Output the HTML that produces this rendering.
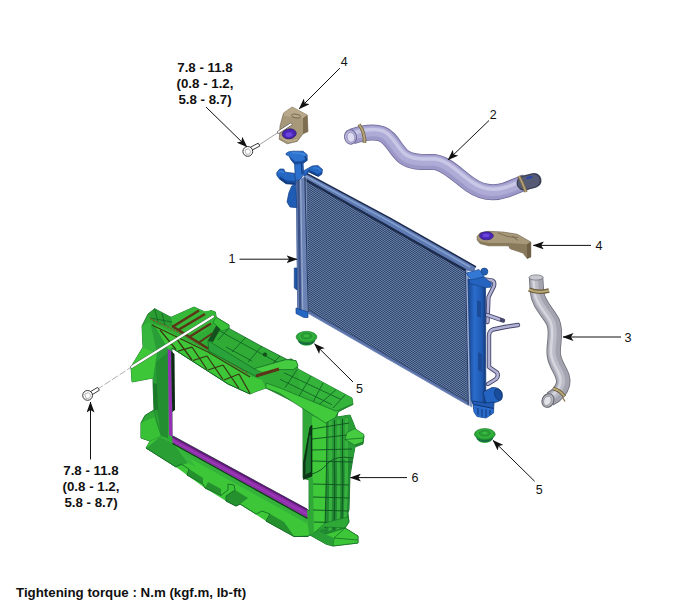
<!DOCTYPE html>
<html><head><meta charset="utf-8">
<style>
html,body{margin:0;padding:0;background:#fff;}
body{width:700px;height:614px;overflow:hidden;position:relative;font-family:"Liberation Sans",sans-serif;}
svg{position:absolute;left:0;top:0;}
text{font-family:"Liberation Sans",sans-serif;fill:#111;}
.b{font-weight:bold;font-size:13.3px;}
.n{font-size:12.5px;}
</style></head><body>
<svg width="700" height="614" viewBox="0 0 700 614">
<defs>
<marker id="ah" viewBox="0 0 11 8" refX="10.5" refY="4" markerWidth="11" markerHeight="8" orient="auto" markerUnits="userSpaceOnUse"><path d="M0,0 L11,4 L0,8 L2.6,4 Z" fill="#111"/></marker>
</defs>
<!--P1S-->
<defs>
<pattern id="core" width="3" height="2" patternUnits="userSpaceOnUse">
<rect width="3" height="2" fill="#32456a"/>
<rect x="0" y="0" width="1.5" height="1" fill="#6580a8"/><rect x="1.5" y="1" width="1.5" height="1" fill="#6580a8"/>
</pattern>
<linearGradient id="coreSh" x1="0" y1="0" x2="1" y2="1">
<stop offset="0" stop-color="#6a86b0" stop-opacity="0.0"/>
<stop offset="1" stop-color="#203458" stop-opacity="0.0"/>
</linearGradient>
<linearGradient id="tankR" x1="0" y1="0" x2="1" y2="0">
<stop offset="0" stop-color="#174690"/><stop offset="0.35" stop-color="#2a6ccc"/><stop offset="0.75" stop-color="#1f5ab2"/><stop offset="1" stop-color="#10326c"/>
</linearGradient>
<linearGradient id="hose2" x1="0" y1="0" x2="0" y2="1">
<stop offset="0" stop-color="#8f8cba"/><stop offset="0.3" stop-color="#c4c2e2"/><stop offset="0.7" stop-color="#a5a2cf"/><stop offset="1" stop-color="#807dab"/>
</linearGradient>
</defs>
<g id="radiator">
<!-- core -->
<polygon points="304.5,178.5 465.7,269.8 468.5,403 308.3,311" fill="url(#core)"/>
<polygon points="304.5,178.5 465.7,269.8 468.5,403 308.3,311" fill="url(#coreSh)"/>
<!-- top rail -->
<polygon points="306,173 390,217.9 476,266.6 474,272 465.7,270.5 304.5,179.5" fill="#5d7ab2"/>
<polyline points="306,173.2 390,218.1 476,266.8" stroke="#1c2a4c" stroke-width="1.5" fill="none"/>
<polyline points="305.5,176 390,221.6 470,267" stroke="#86a0d0" stroke-width="1.5" fill="none"/>
<polyline points="304.5,179.3 465.7,270.4" stroke="#1d2b4c" stroke-width="2.4" fill="none"/>
<!-- bottom rail -->
<polygon points="308.3,310 468,402 468.5,405.6 308.3,313.6" fill="#5d74a8"/>
<polyline points="308.3,310 468,402" stroke="#2c3f68" stroke-width="0.8" fill="none"/>
<polyline points="308.3,313.4 468.5,405.4" stroke="#6f88bc" stroke-width="0.8" fill="none"/>
<!-- left header strip -->
<polygon points="296,181 304.8,176.5 308.5,313 297.5,309" fill="#6a82b4"/>
<polyline points="298.3,180 300.2,310" stroke="#3c5286" stroke-width="2.2" fill="none"/><polyline points="300.6,179 302.8,311" stroke="#a4b4d6" stroke-width="0.9" fill="none"/><polyline points="306,177 308,312" stroke="#93a6cc" stroke-width="0.8" fill="none"/>
<polyline points="304.8,177 308.3,312" stroke="#2a3f68" stroke-width="1.1" fill="none"/>
<polyline points="296.3,181 297.7,309" stroke="#5873a6" stroke-width="1" fill="none"/>
<!-- right header strip -->
<polygon points="465,270.5 468.8,272 472,407.5 468,405" fill="#7990c0"/>
<polyline points="465.5,270.5 468.3,405" stroke="#2a3f68" stroke-width="1.1" fill="none"/>
<polyline points="466.8,271.5 469.6,406" stroke="#aab9d8" stroke-width="0.8" fill="none"/>
<!-- left blue bits -->
<g fill="#2468c4" stroke="#153f86" stroke-width="0.7" stroke-linejoin="round">
<path d="M276.8,172.4 L279.7,169 L283.7,169 L285.4,172.2 L294.5,173.3 L296.2,181.5 L295.7,184.5 L286,183.8 L279,178.6 L276.8,175.2Z"/>
<path d="M291.7,186 L295.7,184.3 L296.8,207.7 L290,207 L287,202 L288.8,193Z" fill="#1f5cb4"/>
<path d="M303,171.2 L312.2,166 L317.9,165.5 L322.5,169.5 L321.9,174 L318.5,176.4 L308.8,171.8 L304.2,176.5Z"/>
<path d="M294.5,163 L303,162.6 L303.8,174.5 L300,179.5 L295.4,180.5Z" fill="#2a70cc"/>
<path d="M286,153.5 L288.8,151.8 L292.8,151.2 L303,151.2 L307.2,154.7 L307.2,160.4 L303,163.4 L294.5,164 L291,159.8 L288.8,155.8 L286,154.7Z" fill="#2c72ce"/>
<path d="M294.3,268 L297,268 L297,290 L294.3,288Z" fill="#2058a8"/>
<path d="M296,308 L308,312 L308,317.5 L304,317.5 L296,313.5Z"/>
</g>
<path d="M292,153.2 Q298,152.2 305.5,155.2" stroke="#4a8ce0" stroke-width="1.3" fill="none"/>
<path d="M288.8,155.8 L291,159.8 L294.5,164 L303,163.4 L307.2,160.4 L307,158 L302,161 L295,161.5Z" fill="#184c9c"/>
<path d="M279,178.6 L286,183.8 L295.7,184.5 L296,181 L287,180.5 L280,176Z M304.2,176.5 L308.8,171.8 L318.5,176.4 L321.9,174 L321,172 L318,174 L309,169.5Z" fill="#184c9c"/>
<path d="M304.8,156 L306.6,160 M301.5,164 L302,174" stroke="#143a7c" stroke-width="1.2" fill="none"/>
<path d="M278.5,172.5 Q281,170.2 284,172.5 M313,168 Q318,167 320.5,171" stroke="#4a8ce0" stroke-width="1" fill="none"/>
<path d="M280,178.5 L287,183 L295,184 M318,176 L309.5,172" stroke="#123672" stroke-width="1.1" fill="none"/>
<!-- right pipes (behind tank) -->
<g fill="none" stroke-linecap="round" stroke-linejoin="round">
<path d="M486,279.5 L492.5,280.5 Q495,282 494,286 L488.5,297 L487.5,322" stroke="#46466c" stroke-width="4.3"/>
<path d="M486,279.5 L492.5,280.5 Q495,282 494,286 L488.5,297 L487.5,322" stroke="#b2b2d4" stroke-width="2.5"/>
<path d="M518,325 L505,327 L493,329.5 Q489,331 489,336 L489,367 L497,372.5 Q499,376 496,379 L488,384" stroke="#46466c" stroke-width="4.4"/>
<path d="M518,325 L505,327 L493,329.5 Q489,331 489,336 L489,367 L497,372.5 Q499,376 496,379 L488,384" stroke="#b2b2d4" stroke-width="2.6"/>
<path d="M487,315 L503,320.5" stroke="#46466c" stroke-width="4.4"/>
<path d="M487,315 L499,319.2" stroke="#b4b4d6" stroke-width="2.6"/>
</g>
<!-- right tank -->
<path d="M468,279 L485.5,284 L485.8,392 L486.5,405 L473,404 L471,400 Z" fill="url(#tankR)" stroke="#123a7a" stroke-width="0.7"/>
<!-- outlet tube -->
<path d="M483,392 L492,387.5 Q499,387 502,392.5 Q503,398 499.5,401 L493.5,403 L486,404Z" fill="#2364c2" stroke="#10326c" stroke-width="0.7"/>
<ellipse cx="498.3" cy="394.6" rx="3.6" ry="6" fill="#1a4c9c" stroke="#10326c" stroke-width="0.6" transform="rotate(-20 498.3 394.6)"/>
<!-- base -->
<path d="M472.5,401 L486,403 L494,402 L493.5,413 L486,418 L477,416.5 L474,412Z" fill="#205cb6" stroke="#10326c" stroke-width="0.7"/>
<path d="M474,404.5 L493.5,408.5 L493.5,413 L486,418 L477,416.5 L474,412Z" fill="#2a6ccc"/>
<path d="M474,404.5 L493.5,408.5 M478,408 L478,415 M482,409 L482,416.5 M486,409.5 L486,417 M490,410 L490,415" stroke="#0f2f66" stroke-width="0.9" fill="none"/>
<path d="M477,300 L481,302 L481,318 L477,316Z M478,352 L482,354 L482,372 L478,370Z" fill="#1a4a98"/>
<path d="M469,279.5 L483.7,276.8 L491.7,283.4 L490.6,287.2 L485,287.8 L470,283.5Z" fill="#2464c0" stroke="#123a7c" stroke-width="0.6"/>
<circle cx="484.3" cy="271.6" r="3.6" fill="#245fb4" stroke="#123a7a" stroke-width="0.6"/>
<path d="M466.4,273.2 L479,269.4 L484.2,276.6 L471,280Z" fill="#3278d4" stroke="#143e84" stroke-width="0.6"/>
</g>
<!-- hose 2 -->
<g id="hose2g" fill="none" stroke-linecap="butt" stroke-linejoin="round">
<path id="h2p" d="M352,136.5 C362,133 372,130.5 382,134 C392,138 395,150 404,157 C412,163 424,162 434,162 C446,163 458,176 470,184.5 C482,193 494,194 506,190 L526,182"/>
<use href="#h2p" stroke="#6f6c9a" stroke-width="16"/>
<use href="#h2p" stroke="#9c99c8" stroke-width="14.4"/>
<use href="#h2p" stroke="#aeabd6" stroke-width="10" transform="translate(0.5,-1.2)"/>
<use href="#h2p" stroke="#c9c7e6" stroke-width="3.5" transform="translate(1,-3)"/>
<!-- dark end -->
<path d="M524,183 L534,180.5" stroke="#3a3f55" stroke-width="15" stroke-linecap="round"/>
<path d="M524,183 L533.5,180.6" stroke="#555b74" stroke-width="12.5" stroke-linecap="round"/>
<path d="M526.5,178.2 L532.5,176.8" stroke="#2846b0" stroke-width="2.2"/>
<!-- clamps -->
<path d="M519,176 Q523,184 526,192" stroke="#7a6a48" stroke-width="3.4"/>
<path d="M519,176 Q523,184 526,192" stroke="#b4a47c" stroke-width="1.6"/>
<path d="M359,124.5 Q365,132 364.5,143" stroke="#7a6a48" stroke-width="3.6"/>
<path d="M359,124.5 Q365,132 364.5,143" stroke="#b4a47c" stroke-width="1.8"/>
<!-- open end -->
<ellipse cx="350.5" cy="137" rx="6" ry="7.2" fill="#b9b7dc" stroke="#6a6794" stroke-width="1" transform="rotate(-12 350.5 137)"/>
<ellipse cx="350.8" cy="137.3" rx="3.8" ry="5" fill="#dedcf0" stroke="#8582b0" stroke-width="0.7" transform="rotate(-12 350.5 137)"/>
</g>
<!-- hose 3 -->
<g id="hose3g" fill="none" stroke-linejoin="round">
<path id="h3p" d="M536,277 L537,292 C538,304 548,312 553,322 C558,334 552,346 554,356 C556,368 565,374 563,384 C561,392 556,396 550,399"/>
<use href="#h3p" stroke="#6e6e78" stroke-width="14.4"/>
<use href="#h3p" stroke="#a4a4b0" stroke-width="12.8"/>
<use href="#h3p" stroke="#bcbcc8" stroke-width="7" transform="translate(-1.6,-0.4)"/>
<use href="#h3p" stroke="#d6d6de" stroke-width="2.4" transform="translate(-2.6,-0.6)"/>
<!-- top clamp -->
<path d="M529,289.5 Q538,293.5 549,290.5" stroke="#6a5c3a" stroke-width="4.6"/>
<path d="M529,289.5 Q538,293.5 549,290.5" stroke="#b8a878" stroke-width="2.2"/>
<ellipse cx="536" cy="277.5" rx="7" ry="2.6" fill="#c8c8d0" stroke="#77777f" stroke-width="0.8"/>
<!-- bottom clamp -->
<path d="M553,388.5 Q560,390 564.5,396.5" stroke="#6a5c3a" stroke-width="3.8"/>
<path d="M553,388.5 Q560,390 564.5,396.5" stroke="#b8a878" stroke-width="1.8"/>
<path d="M563,398 L565,401.5" stroke="#8a7a4a" stroke-width="1.3"/>
<ellipse cx="548" cy="400.5" rx="5.8" ry="7" fill="#b4b4be" stroke="#5f5f68" stroke-width="1" transform="rotate(25 548 400.5)"/>
<ellipse cx="547.6" cy="401" rx="3.6" ry="4.8" fill="#e2e2e8" stroke="#8a8a94" stroke-width="0.7" transform="rotate(25 548 400.5)"/>
</g>
<!--P1E-->
<!--P2S-->
<!-- bracket 4 top -->
<g id="br1">
<path d="M283.6,113 L292.1,107 L307.2,115 L308,131.5 L303,133.8 L297.2,141.4 L287.2,143.8 L279.3,139.4 L280,125.8Z" fill="#a8987a" stroke="#6a5c44" stroke-width="0.6"/>
<path d="M303,118 L307.2,115 L308,131.5 L303,133.8Z" fill="#7e6e52"/>
<path d="M283.6,113 L292.1,107 L307.2,115 L303,118 L284.5,116Z" fill="#b8a98a"/>
<ellipse cx="296" cy="116" rx="4.6" ry="1.8" fill="none" stroke="#6a5c44" stroke-width="0.8" transform="rotate(8 296 116)"/>
<path d="M280,136.5 Q288,144 297,139.5" stroke="#c8b998" stroke-width="1" fill="none"/>
<ellipse cx="289.3" cy="133.8" rx="7" ry="4.9" fill="#4a26b4" stroke="#2c1670" stroke-width="0.7" transform="rotate(-8 289.3 133.8)"/>
<ellipse cx="289" cy="134.6" rx="3.6" ry="2.3" fill="#6a44dc" transform="rotate(-8 289 134.6)"/>
<!-- rod -->
<line x1="278.5" y1="132.2" x2="290.8" y2="124.3" stroke="#555" stroke-width="3" stroke-linecap="round"/>
<line x1="278.5" y1="132.2" x2="290.8" y2="124.3" stroke="#fff" stroke-width="1.9" stroke-linecap="round"/>
<line x1="259" y1="145" x2="278.5" y2="132.2" stroke="#666" stroke-width="0.6"/>
</g>
<!-- bolt 1 -->
<g id="bolt1" stroke="#222" stroke-width="0.9" fill="#fff">
<path d="M250.5,147.2 L258.2,143.2 L259.8,146 L252,150.2Z"/>
<circle cx="247.8" cy="151.4" r="4.9"/>
<path d="M245,150 L248.5,148.8 L250.8,151.2 L249.5,154 L246.2,154.3Z" stroke="#888" stroke-width="0.6"/>
</g>
<!-- bracket 4 right -->
<g id="br2">
<path d="M477.1,236.4 L480,232.9 L488.6,231.3 L502.9,232 L517.1,234.2 L530.8,242 L530.8,257 L527.2,258.6 L523,253 L510,248.7 L508.6,245.8 L488.6,245.8 L480,243.6 L477.1,240Z" fill="#a8987a" stroke="#6a5c44" stroke-width="0.6"/>
<path d="M477.3,238 L480,241.2 L488.6,243 L509,243 L527,244.2 L530.8,242 L530.8,257 L527.2,258.6 L523,253 L510,248.7 L508.6,245.8 L488.6,245.8 L480,243.6Z" fill="#8a7a5c"/>
<path d="M527,244.2 L530.8,242 L530.8,257 L527.2,258.6Z" fill="#6e5f44"/>
<path d="M498,233 Q508,238 518,237.5 M512,236 L518,240.5" stroke="#6a5c44" stroke-width="0.7" fill="none"/>
<ellipse cx="486.4" cy="235.8" rx="7" ry="4" fill="#4a26b4" stroke="#2c1670" stroke-width="0.6"/>
<ellipse cx="486" cy="235.4" rx="3.4" ry="1.9" fill="#6a44dc"/>
</g>
<!-- grommets -->
<g>
<ellipse cx="306.5" cy="342.2" rx="6.8" ry="3.6" fill="#3cc040"/>
<ellipse cx="306.5" cy="340.4" rx="8.6" ry="4.6" fill="#176a44"/>
<ellipse cx="306.5" cy="337" rx="10.4" ry="5.7" fill="#2aa436" stroke="#1a7a2a" stroke-width="0.6"/>
<ellipse cx="306.5" cy="336.4" rx="8.2" ry="4.3" fill="#34b43c"/>
<ellipse cx="306.5" cy="336" rx="5.6" ry="2.9" fill="#2a9e34" stroke="#1c8030" stroke-width="0.6"/>
<ellipse cx="306.5" cy="335.8" rx="2.8" ry="1.5" fill="#38b83e"/>
</g>
<g>
<ellipse cx="484.8" cy="439.4" rx="6.8" ry="3.6" fill="#3cc040"/>
<ellipse cx="484.8" cy="437.59999999999997" rx="8.6" ry="4.6" fill="#176a44"/>
<ellipse cx="484.8" cy="434.2" rx="10.4" ry="5.7" fill="#2aa436" stroke="#1a7a2a" stroke-width="0.6"/>
<ellipse cx="484.8" cy="433.59999999999997" rx="8.2" ry="4.3" fill="#34b43c"/>
<ellipse cx="484.8" cy="433.2" rx="5.6" ry="2.9" fill="#2a9e34" stroke="#1c8030" stroke-width="0.6"/>
<ellipse cx="484.8" cy="433.0" rx="2.8" ry="1.5" fill="#38b83e"/>
</g>
<!--P2E-->
<!--P3S-->
<!-- green frame -->
<g id="frame">
<!-- silhouette with opening (evenodd) -->
<path fill-rule="evenodd" fill="#30ac36" stroke="#126424" stroke-width="0.8" stroke-linejoin="round" d="
M148,314 L154.6,308.7 L171,317.3 L194,307 L203.4,311.3 L204.3,314 L211,310.4 L215.4,312 L216.3,317.3 L229,325 L229,328.4 L260,345.5 L288,360 L291,358.8 L296,362 L298,369 L352,398 L353,404 L338,412 L337,417 L350,415 L353,422 L356,430 L364,436 L363,444 L355,447 L353,458 L350,476 L349,510 L348,513 L349,522 L345,528 L358,536 L358,543 L333,546 L326,544 L310,535 L308,536.5 L294,536.5 L266,521 L270,514 L262,511 L256,514 L240,504 L236,506 L226,501 L226,496 L235,490 L234,485 L228,484 L228,490 L221,495.5 L205,488 L203,484 L187,475 L189,469 L181,464 L176,467 L146,448 L150,441 L141,438 L141,423 L145,415.5 L154,410 L153,383 L153,378 L132,382 L131,367 L143,347 L142,326 Z
M172,348 L200,366 L228,384 L250,394 L256,391.5 L266,388 L302,406 L303,409 L303,478 L309,480 L309,511 L307,509 L173,436 L172,436 Z"/>
<!-- top beam: far top face lighter strip at left -->
<path d="M148,314 L154.6,308.7 L171,317.3 L173,327 L154,324Z" fill="#2a9c32"/>
<path d="M171,317.3 L194,307 L203.4,311.3 L211,310.4 L215.4,312 L216.3,317.3 L206,330 L190,338 L173,327Z" fill="#36b838"/>
<path d="M154.6,308.7 L158,322 M162,313 L165,325.5 M150,318 L172,322" stroke="#126424" stroke-width="0.8" fill="none"/>
<!-- top beam front truss face -->
<path d="M142.6,326.7 L154,324 L208,351 L250,376 L262,380 L266,388 L256,391.5 L250,394 L228,384 L200,366 L172,348 L168,349 L143,347Z" fill="#3cc638"/>
<!-- left pillar shading -->
<path d="M142,326 L154,324 L168,349 L168,436 L154,410 L153,378 L132,382 L131,367 L143,347Z" fill="#2a9e36"/>
<path d="M153,378 L132,382 L131,367 L143,347 L157,353 Z" fill="#3cc638"/>
<path d="M142,326 L150,322 L157,353 L143,347Z" fill="#36b63c"/>
<path d="M156,362 L168,352 L168,438 L161,436 L157,410Z" fill="#238e30"/>
<path d="M153,383 L157,384 L158,410 L154,410Z" fill="#1a7a2a"/>
<!-- truss lines on front -->
<g stroke="#3a3a12" stroke-width="1.3" fill="none">
<path d="M152,325 L208,352 L250,377"/>
<path d="M160,330 L176,349.5 M176,338 L192,360 M192,347 L178,351 M192,347 L207,369.5 M207,356 L193,360.5 M207,356 L223,379.5 M223,365 L208,370 M223,365 L239,388.5 M239,374 L224,380 M239,374 L250,393.5"/>
</g>
<path d="M150,318.5 L182,334 L214,353 L248,373.5" stroke="#7a5a2a" stroke-width="1.2" fill="none" stroke-dasharray="2.2 1"/>
<path d="M172,348 L200,366 L228,384 L250,394" stroke="#126424" stroke-width="1" fill="none"/>
<!-- top surface grid lines -->
<g stroke="#126424" stroke-width="0.9" fill="none">
<path d="M229,328 L218,340 M246,337 L232,352 M262,346 L248,362 M280,356 L270,366 M297,369.5 L285,387.8"/>
<path d="M218,330 L236,340 L284,366 M226,347 L252,361"/>
</g>
<!-- raised wall on top -->
<path d="M207.9,340.5 L254.2,368.8 L286,359.7 L296,360.6 L298,366 L293.6,369.6 L279,369.5 L256,376.5 L208.7,351Z" fill="#2aa43a" stroke="#126424" stroke-width="0.7" stroke-linejoin="round"/>
<path d="M254.2,368.8 L286,359.7 L296,360.6 L298,366 L293.6,369.6 L279,369.5 L262,372.5Z" fill="#46cc40" stroke="#126424" stroke-width="0.5"/>
<path d="M207.9,340.5 L216,326 Q220,322 222,326 L213,342Z" fill="#14501e"/>
<path d="M216.3,317.3 L229,325 L229,328.4 L222,331 L213,322Z" fill="#38c036" stroke="#126424" stroke-width="0.5"/>
<!-- brown bars -->
<g stroke="#5c3418" fill="none" stroke-linecap="butt">
<path d="M173,326.5 L199,310.5" stroke-width="2.6"/>
<path d="M179,329.5 L205,314" stroke-width="2.6"/>
<path d="M190,336.5 L211,323.5" stroke-width="2.2"/>
<path d="M172,326 L208,348.5" stroke-width="2.4"/>
<path d="M199,342.5 L212,333.5" stroke-width="1.8"/>
<path d="M256,376 L279,369" stroke-width="3"/>
</g>
<circle cx="265" cy="354.5" r="1.8" fill="#14501e" stroke="#0c3a16" stroke-width="0.5"/>
<!-- beam right end lip -->
<path d="M298,369 L352,398 L353,404 L338,412 L300,392 Z" fill="#34b43a"/>
<g stroke="#126424" stroke-width="0.9" fill="none">
<path d="M284,372.8 L341,399.5 M280,379.3 L332,404.7"/>
<path d="M311,376 L298,398 M323,383 L311,406 M336,389.7 L319,404.7 M345,395 L333,408"/>
</g>
<!-- right pillar -->
<path d="M303,409 L318,418 L337,417 L350,415 L353,422 L356,430 L364,436 L363,444 L355,447 L353,458 L350,476 L349,510 L348,513 L349,522 L345,528 L326,534 L310,535 L309,480 L303,478Z" fill="#218a32"/>
<!-- upper ribbed part brighter -->
<path d="M324,419 L350,415 L353,422 L356,430 L355,447 L353,458 L330,462 L323,470Z" fill="#2a9e36"/>
<!-- front column -->
<path d="M303,409 L318,418 L327,419 L326.5,468 L325,528 L310,535 L309,480 L303,478Z" fill="#2fa838"/>
<path d="M312,416 L318,418 L327,419 L326.5,468 L325,528 L314,533 L313,480 L312,474Z" fill="#3ec83a"/>
<!-- ribs -->
<g fill="#38b23e">
<path d="M329,420.5 L332,420 L332,464 Q332.5,480 331.5,530 L328.5,531 Q329.5,480 328.5,466Z"/>
<path d="M337,419.5 L340,419 L340,461 Q341,478 339.5,529 L336.5,530 Q337.5,478 336.8,462Z"/>
<path d="M345,418.5 L348,418 L348,458 Q348.5,476 346.5,526 L343.5,527.5 Q345,478 344.6,460Z"/>
</g>
<g stroke="#0f5220" stroke-width="0.9" fill="none">
<path d="M327,419 L326.5,468 L325,528 M334.5,420 L334.3,464 Q335.2,480 334,530 M342.5,419 L342.5,460 Q343.4,478 341.6,528"/>
<path d="M312,429 L349,423 M312,439 L347,435 M312,450 L352,449 M312,461 L352,462 M313,484 L349,485 M313,497 L349,498 M313,510 L348,511 M314,522 L347,523"/>
<path d="M312,474 Q322,471 328,463 Q336,455 353,458"/>
</g>
<!-- dark inner panel -->
<path d="M310,427 L312,425 L312,476 L303.5,479.5 L303.5,462Z" fill="#0c3a18" stroke="#05200c" stroke-width="0.6"/>
<path d="M309.5,436 L310.8,435 L310.8,472 L305.5,474.5 L305.5,463Z" fill="#1c7a30"/>
<!-- tab -->
<path d="M355,428.5 L364,434.5 L363,442 L354.5,445 L345,439.5 L347,432.5Z" fill="#46cc40" stroke="#126424" stroke-width="0.6"/>
<path d="M345,439.5 L363,438" stroke="#126424" stroke-width="0.7"/>
<!-- pillar base flare -->
<path d="M314,533 L325,527 L345,528 L349,522 L348,517 L332,521 L325,523Z" fill="#2ea836" stroke="#126424" stroke-width="0.5"/>
<!-- foot -->
<path d="M310,535 L326,534 L345,528 L358,536 L358,543 L333,546 L326,544Z" fill="#3cc638" stroke="#126424" stroke-width="0.6"/>
<path d="M333,546 L334,538 L345,528 M334,538 L358,540" stroke="#126424" stroke-width="0.7" fill="none"/>
<path d="M310,535 L326,544 L333,546 L334,538 L318,531Z" fill="#2a9e36"/>
<!-- front lip of top plate (over pillar top) -->
<path d="M266,383 L280,388 L336,411.2 L353,404 L353,404.6 L338.6,411 L335.3,417.7 L325.6,423 L303,408.6 L280,393.5 L266,388Z" fill="#40ca3c" stroke="#126424" stroke-width="0.6" stroke-linejoin="round"/>
<!-- bottom beam shading -->
<path d="M173,443 L307,518 L309,535 L294,536.5 L266,521 L240,504 L226,501 L205,488 L187,475 L176,467 L146,448 L150,441 L160,436Z" fill="#3cc638"/>
<path d="M173,443 L307,518 L308,524 L173,449Z" fill="#34b23a"/>
<path d="M146,448 L160,437 L173,443 L188,463 L176,467Z" fill="#2aa034"/>
<path d="M160,437 L173,443 L188,463 L196,467 L178,444Z" fill="#36b63c"/>
<path d="M141,423 L145,415.5 L154,410 L161,436 L150,441 L141,438Z" fill="#2fa836" stroke="#126424" stroke-width="0.5"/>
<path d="M141,423 L154,417 L161,436 L150,441 L141,438Z" fill="#38c036"/>
<path d="M187,475 L189,469 L203,478 L203,484Z M226,496 L235,490 L248,498 L240,504 L236,506 L226,501Z M266,521 L270,514 L284,522 L294,536Z M205,488 L208,482 L221,489 L221,495.5Z" fill="#24902e"/>
<path d="M146,448 L176,467 L181,464 L189,469 L187,475 L203,484 L205,488 L221,495.5 L228,490 L228,484 L234,485 L235,490 L226,496 L226,501 L236,506 L240,504 L256,514 L262,511 L270,514 L266,521 L294,536.5 L308,536.5" stroke="#126424" stroke-width="0.8" fill="none"/>
<!-- purple seal -->
<path d="M167.7,349 L171.2,351 L172.5,437 L169,435Z" fill="#9630b4"/>
<path d="M171.2,351 L174.5,354 L175,410 L172.2,412Z" fill="#0c2a14"/>
<path d="M172.5,436 L307,509 L307.5,518 L172.5,443Z" fill="#8e2ea8"/>
<path d="M172.5,436.8 L307,509.8" stroke="#5c1a74" stroke-width="1.8" fill="none"/>
<path d="M172.5,443.5 L307.5,518.5" stroke="#0f3a18" stroke-width="1.2" fill="none"/>
<path d="M172.5,440.5 L307,514" stroke="#a040c0" stroke-width="1" fill="none"/>
<!-- white rod -->
<line x1="131.5" y1="367" x2="213" y2="316.5" stroke="#3a5a3a" stroke-width="3.2" stroke-linecap="round"/>
<line x1="131.5" y1="367" x2="213" y2="316.5" stroke="#ffffff" stroke-width="2.2" stroke-linecap="round"/>
<line x1="97" y1="389.5" x2="131.5" y2="367" stroke="#777" stroke-width="0.6" stroke-dasharray="7 2"/>
</g>
<!-- bolt 2 -->
<g id="bolt2" stroke="#222" stroke-width="0.9" fill="#fff">
<path d="M90.5,391.6 L97.6,387.4 L99.4,390.2 L92.4,394.6Z"/>
<circle cx="87.6" cy="395.4" r="4.9"/>
<path d="M84.8,394 L88.3,392.6 L90.8,395.2 L89.4,398.2 L86,398.5Z" stroke="#888" stroke-width="0.6"/>
</g>
<!--P3E-->

<!--LABELS-->
<g id="labels">
<text class="b" text-anchor="middle" x="205" y="72">7.8 - 11.8</text>
<text class="b" text-anchor="middle" x="205" y="88">(0.8 - 1.2,</text>
<text class="b" text-anchor="middle" x="205" y="104">5.8 - 8.7)</text>
<text class="b" text-anchor="middle" x="91" y="474.5">7.8 - 11.8</text>
<text class="b" text-anchor="middle" x="91" y="490.5">(0.8 - 1.2,</text>
<text class="b" text-anchor="middle" x="91" y="506.5">5.8 - 8.7)</text>
<text class="b" x="16" y="597">Tightening torque : N.m (kgf.m, lb-ft)</text>
<text class="n" text-anchor="middle" x="344.2" y="66">4</text>
<text class="n" text-anchor="middle" x="493.3" y="119">2</text>
<text class="n" text-anchor="middle" x="599.1" y="250">4</text>
<text class="n" text-anchor="middle" x="232" y="262.7">1</text>
<text class="n" text-anchor="middle" x="628" y="341.7">3</text>
<text class="n" text-anchor="middle" x="359.4" y="393">5</text>
<text class="n" text-anchor="middle" x="539.3" y="493.5">5</text>
<text class="n" text-anchor="middle" x="415" y="482.2">6</text>
</g>
<g id="arrows" stroke="#111" stroke-width="1" fill="none">
<line x1="206" y1="107" x2="247" y2="147" marker-end="url(#ah)"/>
<line x1="339.8" y1="68.2" x2="299.2" y2="108.8" marker-end="url(#ah)"/>
<line x1="489" y1="120.5" x2="448" y2="160" marker-end="url(#ah)"/>
<line x1="591" y1="245.4" x2="533.3" y2="245.4" marker-end="url(#ah)"/>
<line x1="239.5" y1="259.2" x2="297" y2="259.2" marker-end="url(#ah)"/>
<line x1="621" y1="337" x2="563" y2="337" marker-end="url(#ah)"/>
<line x1="353" y1="382" x2="314.5" y2="343.8" marker-end="url(#ah)"/>
<line x1="534.7" y1="481.3" x2="493" y2="440.4" marker-end="url(#ah)"/>
<line x1="407" y1="477.6" x2="350.4" y2="477.6" marker-end="url(#ah)"/>
<line x1="90.5" y1="459.5" x2="90.5" y2="402" marker-end="url(#ah)"/>
</g>
</svg>
</body></html>
